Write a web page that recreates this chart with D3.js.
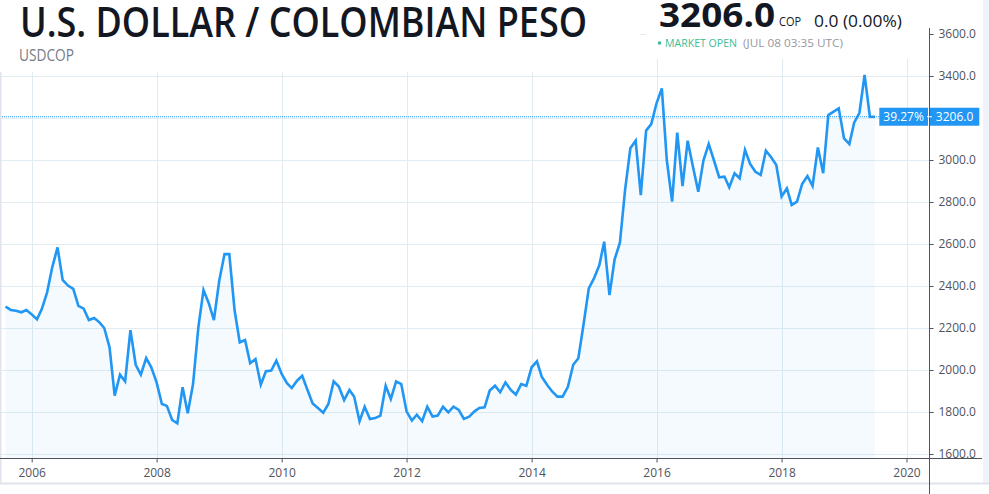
<!DOCTYPE html>
<html lang="en">

<head>
    <meta charset="UTF-8">
    <title>U.S. Dollar / Colombian Peso</title>
    <style>
        body { margin: 0; background: #fff; }
        svg { display: block; }
    </style>
</head>

<body>
    <script src="https://cdn.jsdelivr.net/npm/d3@7"></script>
    <script>
        const svg_w = 989;
        const svg_h = 494;

        // monthly closes, one per month starting Aug 2005, last one Jul 2019
        const first_month = new Date(2005, 7, 1);
        const usdcop = [
            2302, 2286, 2282, 2275, 2286, 2265, 2241, 2290, 2370, 2489, 2584, 2429,
            2402, 2386, 2305, 2292, 2238, 2248, 2227, 2200, 2108, 1878, 1978, 1946,
            2190, 2025, 1978, 2057, 2013, 1941, 1838, 1829, 1762, 1746, 1918, 1794,
            1933, 2203, 2381, 2318, 2238, 2425, 2552, 2552, 2283, 2132, 2143, 2032,
            2052, 1930, 1994, 1997, 2045, 1981, 1937, 1914, 1949, 1972, 1905, 1841,
            1819, 1797, 1838, 1946, 1921, 1857, 1905, 1873, 1756, 1825, 1767, 1771,
            1783, 1925, 1862, 1946, 1933, 1803, 1759, 1787, 1756, 1825, 1778, 1783,
            1825, 1798, 1825, 1810, 1767, 1778, 1803, 1819, 1822, 1902, 1925, 1894,
            1941, 1905, 1883, 1933, 1925, 2013, 2041, 1968, 1930, 1898, 1873, 1873,
            1920, 2025, 2056, 2220, 2389, 2437, 2500, 2611, 2357, 2527, 2606, 2857,
            3056, 3092, 2833, 3140, 3171, 3270, 3341, 3000, 2802, 3130, 2876, 3092,
            2968, 2849, 2997, 3076, 3000, 2918, 2921, 2870, 2937, 2913, 3048, 2981,
            2944, 2929, 3044, 3013, 2976, 2826, 2865, 2786, 2802, 2886, 2924, 2876,
            3060, 2937, 3214, 3230, 3246, 3103, 3076, 3178, 3225, 3405, 3206, 3206
        ];

        const y_ticks = [1600, 1800, 2000, 2200, 2400, 2600, 2800, 3000, 3200, 3400, 3600];
        const x_ticks = [2006, 2008, 2010, 2012, 2014, 2016, 2018, 2020];

        const title = 'U.S. DOLLAR / COLOMBIAN PESO';
        const symbol = 'USDCOP';
        const change_text = '0.0 (0.00%)';
        const status_text = 'MARKET OPEN';
        const time_text = '(JUL 08 03:35 UTC)';

        const blue = '#2196f3';
        const grid_color = '#e1ecf2';
        const axis_color = '#50535e';

        const series = usdcop.map((v, i) => ({ date: d3.timeMonth.offset(first_month, i), value: v }));
        const last = usdcop[usdcop.length - 1];
        const pct = (last / usdcop[0] - 1) * 100;

        const x = d3.scaleTime()
            .domain([new Date(2006, 0, 1), new Date(2020, 0, 1)])
            .range([31.7, 906.5]);

        const y = d3.scaleLinear()
            .domain([1600, 3600])
            .range([454, 34]);

        const axis_x = 929.5;
        const axis_y = 458.5;

        const svg = d3.select('body')
            .append('svg')
            .attr('width', svg_w)
            .attr('height', svg_h)
            .style('font-family', '"Open Sans", sans-serif');

        // grid
        svg.append('g')
            .selectAll('line')
            .data(y_ticks)
            .enter()
            .append('line')
            .attr('x1', 0)
            .attr('x2', axis_x)
            .attr('y1', d => Math.round(y(d)) + 0.5)
            .attr('y2', d => Math.round(y(d)) + 0.5)
            .attr('stroke', grid_color);

        svg.append('g')
            .selectAll('line')
            .data(x_ticks)
            .enter()
            .append('line')
            .attr('x1', d => Math.round(x(new Date(d, 0, 1))) + 0.5)
            .attr('x2', d => Math.round(x(new Date(d, 0, 1))) + 0.5)
            .attr('y1', 0)
            .attr('y2', axis_y)
            .attr('stroke', grid_color);

        // area + line
        svg.append('path')
            .datum(series)
            .attr('fill', blue)
            .attr('fill-opacity', 0.05)
            .attr('d', d3.area().x(d => x(d.date)).y0(axis_y).y1(d => y(d.value)));

        svg.append('path')
            .datum(series)
            .attr('fill', 'none')
            .attr('stroke', blue)
            .attr('stroke-width', 2.6)
            .attr('stroke-linejoin', 'miter')
            .attr('d', d3.line().x(d => x(d.date)).y(d => y(d.value)));

        // last price dotted line
        svg.append('line')
            .attr('x1', 0)
            .attr('x2', 879)
            .attr('y1', y(last))
            .attr('y2', y(last))
            .attr('stroke', blue)
            .attr('stroke-width', 1)
            .attr('stroke-dasharray', '1,1');

        // header backgrounds hide the grid
        svg.append('rect').attr('x', 0).attr('y', 0).attr('width', 640).attr('height', 72).attr('fill', '#fff');
        svg.append('rect').attr('x', 646).attr('y', 0).attr('width', 283).attr('height', 59).attr('fill', '#fff');

        // frame
        svg.append('rect').attr('x', 983).attr('y', 0).attr('width', 6).attr('height', 483).attr('fill', '#f0f3fa');
        svg.append('line').attr('x1', 0.5).attr('x2', 0.5).attr('y1', 72).attr('y2', 483).attr('stroke', '#e0e3eb').attr('stroke-width', 2);
        svg.append('line').attr('x1', 0).attr('x2', svg_w).attr('y1', 483.5).attr('y2', 483.5).attr('stroke', '#e0e3eb').attr('stroke-width', 2);

        // axes
        const y_axis = svg.append('g')
            .attr('transform', `translate(${axis_x},0)`)
            .call(d3.axisRight(y).tickValues(y_ticks.filter(t => t !== 3200)).tickFormat(d3.format('.1f')).tickSize(4).tickPadding(5));

        const x_axis = svg.append('g')
            .attr('transform', `translate(0,${axis_y})`)
            .call(d3.axisBottom(x).tickValues(x_ticks.map(t => new Date(t, 0, 1))).tickFormat(d3.timeFormat('%Y')).tickSize(4).tickPadding(6));

        [y_axis, x_axis].forEach(g => {
            g.select('.domain').remove();
            g.selectAll('line').attr('stroke', axis_color);
            g.selectAll('text')
                .attr('fill', axis_color)
                .attr('font-size', '12px')
                .attr('font-family', '"Open Sans", sans-serif');
        });

        svg.append('line').attr('x1', axis_x).attr('x2', axis_x).attr('y1', 28).attr('y2', svg_h).attr('stroke', axis_color);
        svg.append('line').attr('x1', 0).attr('x2', 982).attr('y1', axis_y).attr('y2', axis_y).attr('stroke', axis_color);

        // current value tags
        const tag_y = y(last);
        svg.append('rect').attr('x', 879.3).attr('y', tag_y - 9).attr('width', 48.7).attr('height', 18).attr('fill', blue);
        svg.append('rect').attr('x', 930).attr('y', tag_y - 9).attr('width', 49.3).attr('height', 18).attr('fill', blue);
        svg.append('line').attr('x1', 927).attr('x2', 932).attr('y1', tag_y).attr('y2', tag_y).attr('stroke', '#fff');
        svg.append('text')
            .text(pct.toFixed(2) + '%')
            .attr('x', 903.6).attr('y', tag_y).attr('dy', '0.35em')
            .attr('text-anchor', 'middle').attr('font-size', '12px').attr('fill', '#fff');
        svg.append('text')
            .text(last.toFixed(1))
            .attr('x', 954.6).attr('y', tag_y).attr('dy', '0.35em')
            .attr('text-anchor', 'middle').attr('font-size', '12px').attr('fill', '#fff');

        // header texts
        svg.append('text')
            .text(title)
            .attr('x', 20).attr('y', 37)
            .attr('font-size', '42px').attr('font-weight', 600).attr('fill', '#131722')
            .attr('textLength', 567).attr('lengthAdjust', 'spacingAndGlyphs');

        svg.append('text')
            .text(symbol)
            .attr('x', 19).attr('y', 60.5)
            .attr('font-size', '16px').attr('fill', '#787b86')
            .attr('textLength', 55).attr('lengthAdjust', 'spacingAndGlyphs');

        svg.append('text')
            .text(last.toFixed(1))
            .attr('x', 659).attr('y', 26.5)
            .attr('font-size', '34px').attr('font-weight', 700).attr('fill', '#131722')
            .attr('textLength', 116).attr('lengthAdjust', 'spacingAndGlyphs');

        svg.append('text')
            .text('COP')
            .attr('x', 779).attr('y', 26)
            .attr('font-size', '12px').attr('fill', '#131722')
            .attr('textLength', 22).attr('lengthAdjust', 'spacingAndGlyphs');

        svg.append('text')
            .text(change_text)
            .attr('x', 814).attr('y', 26.5)
            .attr('font-size', '17px').attr('fill', '#131722')
            .attr('textLength', 88).attr('lengthAdjust', 'spacingAndGlyphs');

        svg.append('circle')
            .attr('cx', 659.5).attr('cy', 43)
            .attr('r', 1.8).attr('fill', '#3cbc98');

        svg.append('text')
            .text(status_text)
            .attr('x', 665).attr('y', 47)
            .attr('font-size', '11px').attr('fill', '#3cbc98')
            .attr('textLength', 72).attr('lengthAdjust', 'spacingAndGlyphs');

        svg.append('text')
            .text(time_text)
            .attr('x', 743).attr('y', 47)
            .attr('font-size', '11px').attr('fill', '#9598a1')
            .attr('textLength', 100).attr('lengthAdjust', 'spacingAndGlyphs');
    </script>
</body>

</html>
